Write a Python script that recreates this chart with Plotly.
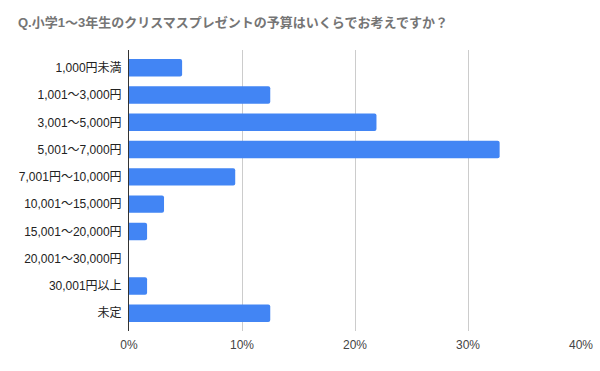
import plotly.graph_objects as go

title_text = "Q.小学1～3年生のクリスマスプレゼントの予算はいくらでお考えですか？"
categories = ["1,000円未満", "1,001～3,000円", "3,001～5,000円", "5,001～7,000円",
              "7,001円～10,000円", "10,001～15,000円", "15,001～20,000円",
              "20,001～30,000円", "30,001円以上", "未定"]
values = [0.047, 0.125, 0.219, 0.328, 0.094, 0.031, 0.016, 0.0, 0.016, 0.125]
x_ticks = [0, 0.1, 0.2, 0.3, 0.4]
x_tick_labels = ["0%", "10%", "20%", "30%", "40%"]

font_family = "Arial, 'Liberation Sans', 'Noto Sans CJK JP', sans-serif"

fig = go.Figure(go.Bar(
    y=categories, x=values, orientation="h",
    marker=dict(color="#4285f4", line=dict(width=0)),
    width=0.64,
))

fig.update_layout(
    width=600, height=371,
    margin=dict(l=129, r=19, t=50, b=40, autoexpand=False),
    paper_bgcolor="white", plot_bgcolor="white",
    barcornerradius=2,
    showlegend=False,
    font=dict(family=font_family, size=12, color="#222222"),
    title=dict(
        text="<b>" + title_text + "</b>",
        x=0, xref="container", xanchor="left", y=1, yref="container", yanchor="top",
        pad=dict(l=18, t=18),
        automargin=False,
        font=dict(family="Arial, 'Noto Sans CJK JP', sans-serif", size=13, color="#757575"),
    ),
    xaxis=dict(
        range=[0, 0.4], tickvals=x_ticks, ticktext=x_tick_labels,
        showgrid=True, gridcolor="#cccccc", gridwidth=1,
        zeroline=False, showline=False, ticks="",
        ticklabelstandoff=5,
        tickfont=dict(size=12, color="#444444"),
        automargin=False,
        fixedrange=True,
    ),
    yaxis=dict(
        categoryorder="array", categoryarray=categories,
        range=[9.65, -0.65],
        showline=True, linecolor="#333333", linewidth=1,
        showgrid=False, zeroline=False, ticks="",
        ticklabelstandoff=4,
        automargin=False,
        tickfont=dict(size=12, color="#222222"),
        fixedrange=True,
    ),
)

fig.write_html("out.html", config={"displayModeBar": False},
               post_script="document.body.style.margin='0';")
